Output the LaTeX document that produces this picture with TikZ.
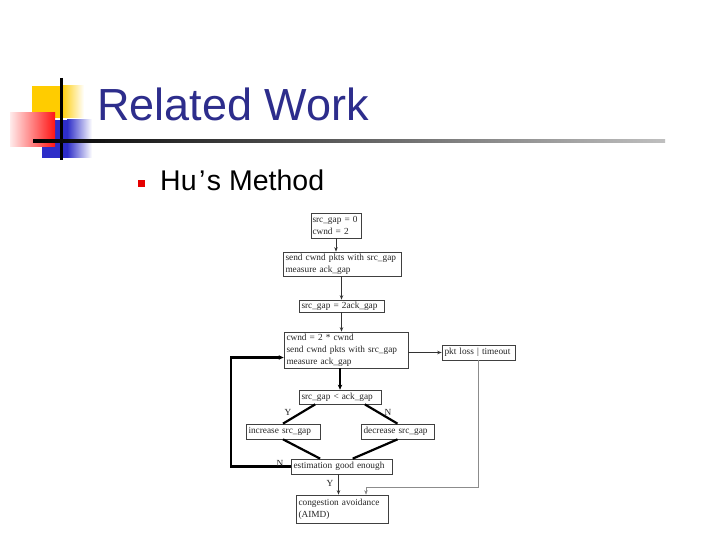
\documentclass[tikz,border=0pt]{standalone}
\usepackage{fontspec}
\setmainfont{Liberation Serif}
\newfontfamily\arialf{Liberation Sans}
\usetikzlibrary{arrows.meta,calc}
\definecolor{titleblue}{RGB}{45,45,140}
\definecolor{decoyellow}{RGB}{255,204,0}
\definecolor{decoblue}{RGB}{45,45,200}
\definecolor{decored}{RGB}{255,20,20}
\begin{document}
\begin{tikzpicture}[x=1pt,y=-1pt,
  box/.style={draw=black!75, line width=0.7pt, fill=white, inner xsep=2.5pt, inner ysep=0pt,
    align=left, font=\fontsize{9.3}{12}\selectfont, text=black!85},
  thinarr/.style={draw=black!80, line width=0.7pt, -{Stealth[length=4.5pt,width=3.5pt]}},
  thickln/.style={draw=black, line width=2.2pt},
  thickarr/.style={thickln, -{Stealth[length=5pt,width=4.5pt]}},
  greyarr/.style={draw=black!45, line width=0.6pt, -{Stealth[length=4.5pt,width=3.5pt,fill=black!70]}},
  lbl/.style={font=\fontsize{9.3}{11}\selectfont, inner sep=0pt, text=black!85}
]
\useasboundingbox (0,0) rectangle (720,540);
\fill[white] (0,0) rectangle (720,540);

% decoration
\fill[decoyellow] (32,86) rectangle (61,118);
\shade[left color=decoyellow, right color=white] (61,86) rectangle (84,118);
\fill[decoblue] (42,120) rectangle (67,158);
\shade[left color=decoblue, right color=white] (67,120) rectangle (92,158);
\shade[left color=red!8, right color=decored] (10,113) rectangle (55,147);
\draw[black, line width=3pt] (61.7,78) -- (61.7,160);
\shade[left color=black, right color=black!25] (33,139.5) rectangle (665,142.5);

% title and bullet
\node[anchor=base west, inner sep=0pt, font=\arialf\fontsize{45}{48}\selectfont, text=titleblue] (title) at (97,121) {Related Work};
\fill[red!90!black] (137.5,180) rectangle (145,187.5);
\node[anchor=base west, inner sep=0pt, font=\arialf\fontsize{28.5}{32}\selectfont, text=black] (bullet) at (160,191) {Hu\kern2.5pt’\kern1.5pt s Method};

% flowchart boxes
\node[box, inner xsep=1.5pt, text width=47, minimum height=25] (b1) at (336,225.5) {src\_gap = 0\\cwnd = 2};
\node[box, text width=113, minimum height=24] (b2) at (342,264) {send cwnd pkts with src\_gap\\measure ack\_gap};
\node[box, text width=80, minimum height=12] (b3) at (341.5,306) {src\_gap = 2ack\_gap};
\node[box, text width=119, minimum height=36] (b4) at (346,350) {cwnd = 2 * cwnd\\send cwnd pkts with src\_gap\\measure ack\_gap};
\node[box, text width=68, minimum height=15] (b5) at (478.5,352.5) {pkt loss | timeout};
\node[box, text width=77, minimum height=14] (b6) at (340,397) {src\_gap < ack\_gap};
\node[box, text width=69, minimum height=15] (b7) at (283,431.5) {increase src\_gap};
\node[box, text width=68, minimum height=15] (b8) at (397.5,431.5) {decrease src\_gap};
\node[box, text width=96, minimum height=15] (b9) at (341.5,466.5) {estimation good enough};
\node[box, text width=87, minimum height=28] (b10) at (342,509) {congestion avoidance\\(AIMD)};

% connectors
\draw[thinarr] (b1.south) -- (b1.south |- b2.north);
\draw[thinarr] (b3.north |- b2.south) -- (b3.north);
\draw[thinarr] (b3.south) -- (b3.south |- b4.north);
\draw[thickarr] (b6.north |- b4.south) -- (b6.north);
\draw[thinarr] (b5.west -| b4.east) -- (b5.west);
\draw[thickln] ($(b6.south west)!0.2!(b6.south east)$) -- (b7.north);
\draw[thickln] ($(b6.south west)!0.8!(b6.south east)$) -- (b8.north);
\draw[thickln] (b7.south) -- ($(b9.north west)!0.29!(b9.north east)$);
\draw[thickln] (b8.south) -- ($(b9.north west)!0.61!(b9.north east)$);
\coordinate (L) at (231,357.5);
\draw[thickarr] (b9.west) -| (L) -- (L -| b4.west);
\coordinate (B) at (338.5,474);
\draw[thinarr] (B) -- (B |- b10.north);
\coordinate (R) at (366,487);
\draw[greyarr] (b5.south) |- (R) -- (R |- b10.north);

% labels
\node[lbl] (ly) at (288,412) {Y};
\node[lbl] (ln) at (388,412) {N};
\node[lbl] (ln2) at (280,463) {N};
\node[lbl] (ly2) at (330,483) {Y};
\end{tikzpicture}
\end{document}
